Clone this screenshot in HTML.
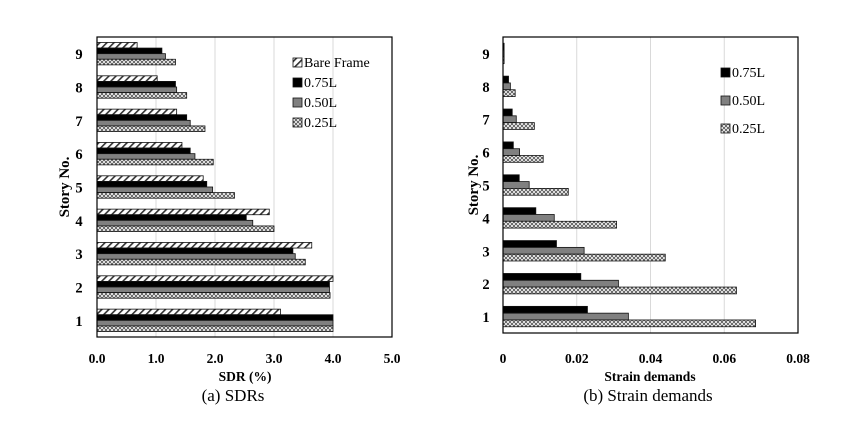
<!DOCTYPE html>
<html><head><meta charset="utf-8"><style>
html,body{margin:0;padding:0;background:#fff;width:852px;height:432px;overflow:hidden}
svg{display:block;font-family:"Liberation Serif",serif}
</style></head><body>
<svg id="c" width="852" height="432">
<defs>
<pattern id="pHatch" width="5" height="5" patternUnits="userSpaceOnUse" patternTransform="rotate(45)"><rect width="5" height="5" fill="#fff"/><rect width="1.6" height="5" fill="#333"/></pattern>
<pattern id="pCross" width="4" height="4" patternUnits="userSpaceOnUse"><rect width="4" height="4" fill="#fff"/><path d="M0 0L4 4M4 0L0 4" stroke="#555" stroke-width="0.9"/></pattern>
</defs>
<text x="233" y="401" font-size="17" text-anchor="middle">(a) SDRs</text>
<text x="648" y="401" font-size="17" text-anchor="middle">(b) Strain demands</text>
</svg>
<script>
const stories = [1,2,3,4,5,6,7,8,9];
const sdrBare = [3.11,4.0,3.64,2.92,1.80,1.44,1.35,1.02,0.68];
const sdr075 = [4.0,3.94,3.32,2.53,1.86,1.58,1.52,1.33,1.10];
const sdr050 = [4.0,3.94,3.36,2.64,1.96,1.66,1.58,1.35,1.16];
const sdr025 = [4.0,3.95,3.53,3.0,2.33,1.97,1.83,1.52,1.33];
const sdrTicks = ["0.0","1.0","2.0","3.0","4.0","5.0"];
const strain075 = [0.0229,0.0211,0.0145,0.0089,0.0044,0.0028,0.0025,0.0015,0.0003];
const strain050 = [0.034,0.0313,0.022,0.0139,0.0071,0.0045,0.0036,0.002,0.0003];
const strain025 = [0.0685,0.0633,0.044,0.0308,0.0177,0.0109,0.0085,0.0033,0.0003];
const strainTicks = ["0","0.02","0.04","0.06","0.08"];

const NS="http://www.w3.org/2000/svg";
const svg=document.getElementById('c');
function mk(tag,attrs,parent){const e=document.createElementNS(NS,tag);for(const k in attrs)e.setAttribute(k,attrs[k]);(parent||svg).appendChild(e);return e;}

function chart(o){
  const g=mk('g',{});
  
  
  const {x0,x1,y0,y1,max}=o;
  const xs=v=>x0+v/max*(x1-x0);
  const band=(y1-y0)/stories.length;
  const yc=i=>y1-band*(i+0.5);
  o.ticks.forEach((t,i)=>{
    const v=max*i/(o.ticks.length-1);
    if(i>0&&i<o.ticks.length-1){const l=mk('line',{x1:xs(v),x2:xs(v),y1:y0,y2:y1,stroke:'#d9d9d9','stroke-width':1},g);
      
      }
    const tx=mk('text',{x:xs(v),y:363,'font-size':13.5,'font-weight':'bold','text-anchor':'middle'},g);
    tx.textContent=t;
    
    
  });
  const n=o.series.length;
  const bh=o.bh;
  stories.forEach((s,i)=>{
    const top=yc(i)-bh*n/2;
    o.series.forEach((ser,k)=>{
      const r=mk('rect',{x:x0,y:top+k*bh,width:Math.max(1,xs(ser.data[i])-x0),height:bh,fill:ser.fill,stroke:'#111','stroke-width':0.8},g);
      
      
    });
    const lb=mk('text',{x:o.labX,y:yc(i)+5.5,'font-size':14.5,'font-weight':'bold','text-anchor':'middle'},g);
    lb.textContent=s;
    
    
  });
  const fr=mk('rect',{x:x0,y:y0,width:x1-x0,height:y1-y0,fill:'none',stroke:'#000','stroke-width':1.2},g);
  
  
  const xt=mk('text',{x:o.xtX,y:381,'font-size':13.5,'font-weight':'bold','text-anchor':'middle'},g);
  xt.textContent=o.xtitle;
  
  
  const yt=mk('text',{x:0,y:0,'font-size':15,'font-weight':'bold','text-anchor':'middle',transform:`translate(${o.ytX},${(y0+y1)/2}) rotate(-90)`},g);
  yt.textContent='Story No.';
  
  
  o.series.forEach((ser,k)=>{
    const ly=o.legY+k*o.legDy;
    const sw=mk('rect',{x:o.legX,y:ly-9,width:9,height:9,fill:ser.fill,stroke:'#111','stroke-width':0.8},g);
    
    
    const lt=mk('text',{x:o.legX+11,y:ly,'font-size':14},g);
    lt.textContent=ser.label;
    
    
  });
}
chart({name:'sdr-chart',x0:97,x1:392,y0:37,y1:337,max:5,ticks:sdrTicks,bh:5.6,labX:79,ytX:69,xtitle:'SDR (%)',xtX:245,
  legX:293,legY:67,legDy:20,
  series:[{key:'bare',label:'Bare Frame',data:sdrBare,fill:'url(#pHatch)'},
          {key:'075',label:'0.75L',data:sdr075,fill:'#000'},
          {key:'050',label:'0.50L',data:sdr050,fill:'#808080'},
          {key:'025',label:'0.25L',data:sdr025,fill:'url(#pCross)'}]});
chart({name:'strain-chart',x0:503,x1:798,y0:37,y1:333,max:0.08,ticks:strainTicks,bh:6.8,labX:486,ytX:478,xtitle:'Strain demands',xtX:650,
  legX:721,legY:77,legDy:28,
  series:[{key:'075',label:'0.75L',data:strain075,fill:'#000'},
          {key:'050',label:'0.50L',data:strain050,fill:'#808080'},
          {key:'025',label:'0.25L',data:strain025,fill:'url(#pCross)'}]});
</script>
</body></html>
